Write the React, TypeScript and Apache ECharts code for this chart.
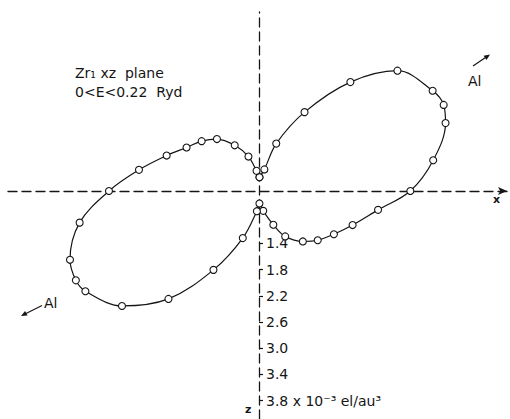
import React, { useEffect, useRef } from "react";
import * as echarts from "echarts";

// Polar direction of each sampled point, degrees counter-clockwise from +x (xz plane)
const angles = [
  88, 76, 70, 60, 50, 41, 30, 25, 20, 10, 0, -9, -20, -30, -40, -49, -60, -67, -78, -88,
  264, 251, 240, 230, 220, 210, 206, 200, 190, 180, 170, 159, 149, 139, 129, 118, 107, 97,
];

// Charge density (10^-3 el/au^3) along each direction
const densities = [
  0.81, 0.94, 1.37, 1.99, 2.77, 3.4, 3.66, 3.71, 3.63, 3.3, 2.91, 2.44, 2.12, 1.92, 1.77, 1.62, 1.4, 1.16, 0.91, 0.79,
  0.91, 1.36, 1.99, 2.75, 3.33, 3.66, 3.71, 3.67, 3.38, 2.89, 2.46, 2.11, 1.89, 1.76, 1.62, 1.39, 1.15, 0.91,
];

// Density scale marked along the -z direction
const scaleTicks = [1.4, 1.8, 2.2, 2.6, 3.0, 3.4, 3.8];
const unitText = " x 10⁻³ el/au³";

const titleLines = ["Zr₁ xz  plane", "0<E<0.22  Ryd"];
const directionLabel = "Al";

const INK = "#151515";
const FONT = "DejaVu Sans";

export default function App() {
  const ref = useRef<HTMLDivElement>(null);

  useEffect(() => {
    if (!ref.current) return;
    const chart = echarts.init(ref.current, null, { renderer: "svg" });

    const loop = angles.map((a, i) => [densities[i], a]);
    loop.push(loop[0]);

    const dashed = { color: INK, width: 1.3, type: [9, 5] as number[] };

    chart.setOption({
      animation: false,
      backgroundColor: "#ffffff",
      textStyle: { fontFamily: FONT },
      // Cartesian frame only supplies the dashed x and z reference lines
      grid: { left: 8, right: 3, top: 12, bottom: 0 },
      xAxis: {
        type: "value",
        min: -251,
        max: 248,
        axisLine: {
          onZero: true,
          symbol: ["none", "arrow"],
          symbolSize: [6, 9],
          lineStyle: dashed,
        },
        axisTick: { show: false },
        axisLabel: { show: false },
        splitLine: { show: false },
      },
      yAxis: {
        type: "value",
        min: -228,
        max: 179,
        axisLine: { onZero: true, lineStyle: dashed },
        axisTick: { show: false },
        axisLabel: { show: false },
        splitLine: { show: false },
      },
      polar: { center: [259, 191], radius: 228 },
      angleAxis: {
        type: "value",
        min: -90,
        max: 270,
        startAngle: 270,
        clockwise: false,
        show: false,
      },
      radiusAxis: {
        type: "value",
        min: 0.6,
        max: 4.08,
        axisLine: { show: false },
        axisTick: {
          show: true,
          inside: true,
          length: 4,
          customValues: scaleTicks,
          lineStyle: { color: INK, width: 1.2 },
        },
        axisLabel: {
          customValues: scaleTicks,
          margin: 7,
          color: INK,
          fontSize: 14,
          fontFamily: FONT,
          formatter: (v: number) =>
            v === scaleTicks[scaleTicks.length - 1] ? v.toFixed(1) + unitText : v.toFixed(1),
        },
        splitLine: { show: false },
      },
      series: [
        {
          type: "line",
          coordinateSystem: "polar",
          data: loop,
          smooth: 0.35,
          showAllSymbol: true,
          symbol: "circle",
          symbolSize: 7,
          itemStyle: { color: "#ffffff", borderColor: INK, borderWidth: 1.1 },
          lineStyle: { color: INK, width: 1.2 },
          z: 5,
        },
      ],
      graphic: [
        {
          type: "text",
          left: 75,
          top: 66,
          style: { text: titleLines[0], fill: INK, font: `14px "${FONT}"` },
        },
        {
          type: "text",
          left: 75,
          top: 85,
          style: { text: titleLines[1], fill: INK, font: `14px "${FONT}"` },
        },
        // Al bond direction, upper right
        { type: "line", shape: { x1: 473, y1: 66, x2: 487, y2: 56.5 }, style: { stroke: INK, lineWidth: 1.2 } },
        {
          type: "polygon",
          shape: { points: [[490, 54.5], [486.5, 60], [483.6, 55.8]] },
          style: { fill: INK },
        },
        {
          type: "text",
          left: 468,
          top: 74,
          style: { text: directionLabel, fill: INK, font: `14px "${FONT}"` },
        },
        // Al bond direction, lower left
        { type: "line", shape: { x1: 42, y1: 305.5, x2: 24, y2: 314.5 }, style: { stroke: INK, lineWidth: 1.2 } },
        {
          type: "polygon",
          shape: { points: [[21, 316], [27.5, 315.4], [25.1, 311]] },
          style: { fill: INK },
        },
        {
          type: "text",
          left: 44,
          top: 296,
          style: { text: directionLabel, fill: INK, font: `14px "${FONT}"` },
        },
        {
          type: "text",
          left: 493,
          top: 194,
          style: { text: "x", fill: INK, font: `bold 11px "${FONT}"` },
        },
        {
          type: "text",
          left: 245,
          top: 404,
          style: { text: "z", fill: INK, font: `bold 11px "${FONT}"` },
        },
      ],
    });

    return () => chart.dispose();
  }, []);

  return (
    <div
      ref={ref}
      style={{ position: "absolute", left: 0, top: 0, width: 510, height: 419 }}
    />
  );
}
